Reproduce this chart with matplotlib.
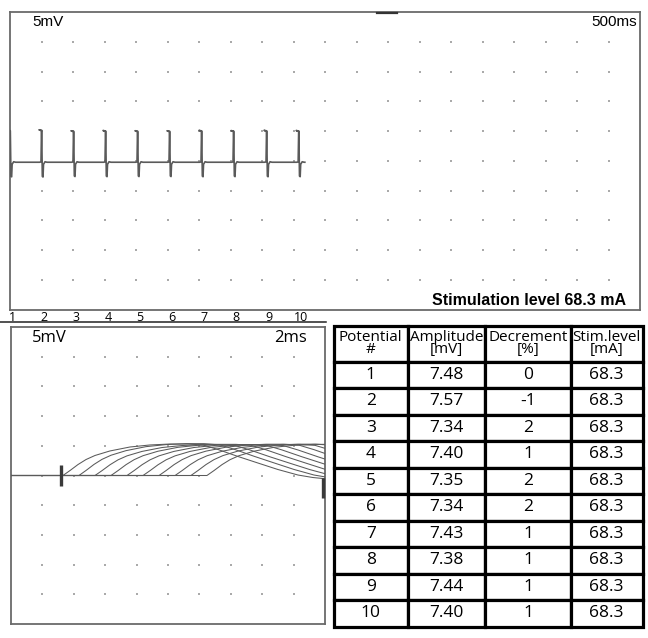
import matplotlib
matplotlib.use("Agg")
import matplotlib.pyplot as plt
from matplotlib.lines import Line2D
import numpy

# ---- table values ----
potential = [1, 2, 3, 4, 5, 6, 7, 8, 9, 10]
amplitude_mv = [7.48, 7.57, 7.34, 7.40, 7.35, 7.34, 7.43, 7.38, 7.44, 7.40]
decrement_pct = [0, -1, 2, 1, 2, 2, 1, 1, 1, 1]
stim_level_ma = [68.3, 68.3, 68.3, 68.3, 68.3, 68.3, 68.3, 68.3, 68.3, 68.3]
headers = ["Potential\n#", "Amplitude\n[mV]", "Decrement\n[%]", "Stim.level\n[mA]"]

# ---- slow sweep (500 ms/div, 5 mV/div) ----
train_ms = [10, 508, 1016, 1524, 2032, 2540, 3048, 3556, 4080, 4590]
train_end_ms = 4680
train_baseline_mv = -0.25
# one response (ms from response, mV)
spike_t = [-40, -16, -8, -48, -5, 5, 16, 24, 48, 79]
spike_v = [0, 0.05, 5.22, 5.39, 5.30, -2.35, -2.45, -0.34, 0.08, 0]

# ---- fast sweep (2 ms/div, 5 mV/div), cascade display ----
stim_ms = 3.18
end_mark_ms = 19.87
onset_ms = [3.31, 4.33, 5.35, 6.37, 7.39, 8.41, 9.43, 10.45, 11.46, 12.48]
cmap_t = [0, 0.45, 0.96, 1.47, 2.04, 2.99, 4.27, 5.54, 6.82, 7.96,
          8.92, 9.87, 11.15, 12.42, 13.69, 14.97, 15.92, 16.88]
cmap_v = [0, 0.84, 1.85, 2.69, 3.37, 4.13, 4.80, 5.14, 5.30, 5.30,
          5.14, 4.38, 3.20, 2.10, 1.01, 0.08, -0.34, -0.59]

TRACE = "#5a5a5a"
DOT = "#aaaaaa"
FRAME = "#6a6a6a"


def scope_axes(ax, xmax, xstep):
    ax.set_xlim(0, xmax)
    ax.set_ylim(-25, 25)
    ax.set_xticks([])
    ax.set_yticks([])
    for s in ax.spines.values():
        s.set_color(FRAME)
        s.set_linewidth(1.3)
    gx, gy = numpy.meshgrid(numpy.arange(xstep, xmax - xstep / 2, xstep),
                            numpy.arange(-20, 21, 5))
    ax.scatter(gx.ravel(), gy.ravel(), s=2.6, marker="s", color=DOT,
               linewidths=0, zorder=1)


fig = plt.figure(figsize=(6.48, 6.38), dpi=100)

# ---- top: train of responses ----
ax1 = fig.add_axes([10 / 648, 1 - 309.5 / 638, 630 / 648, 297.5 / 638])
scope_axes(ax1, 10000, 500)
tt, vv = [], []
for t0, amp in zip(train_ms, amplitude_mv):
    k = amp / amplitude_mv[0]
    tt += [t0 + d for d in spike_t]
    vv += [train_baseline_mv + v * k for v in spike_v]
tt.append(train_end_ms)
vv.append(train_baseline_mv)
ax1.plot(tt, vv, color=TRACE, lw=1.2, zorder=3)

ax1.text(0.035, 0.966, "5mV", transform=ax1.transAxes, ha="left", va="center",
         fontsize=11, family="Liberation Sans")
ax1.text(0.995, 0.966, "500ms", transform=ax1.transAxes, ha="right", va="center",
         fontsize=11, family="Liberation Sans")
ax1.text(0.978, 0.029, "Stimulation level 68.3 mA", transform=ax1.transAxes,
         ha="right", va="center", fontsize=11.5, fontweight="bold",
         family="Liberation Sans")
for t0, n in zip(train_ms, potential):
    ax1.text(t0 + 30, -0.026, str(n), transform=ax1.get_xaxis_transform(),
             ha="center", va="center", fontsize=9, family="Open Sans",
             clip_on=False)

fig.add_artist(Line2D([0, 326 / 648], [1 - 322 / 638] * 2, color="#222222", lw=1.1))
fig.add_artist(Line2D([377 / 648, 397 / 648], [1 - 12.5 / 638] * 2, color="#333333", lw=1.6))

# ---- bottom left: superimposed responses ----
ax2 = fig.add_axes([11 / 648, 1 - 624 / 638, 314 / 648, 297 / 638])
scope_axes(ax2, 20, 2)
for t0, amp in zip(onset_ms, amplitude_mv):
    k = amp / amplitude_mv[0]
    ax2.plot([0] + [t0 + d for d in cmap_t], [0] + [v * k for v in cmap_v],
             color=TRACE, lw=0.75, zorder=3)
ax2.plot([stim_ms, stim_ms], [-1.85, 1.85], color="#3a3a3a", lw=2.4,
         solid_capstyle="butt", zorder=4)
ax2.plot([end_mark_ms, end_mark_ms], [-0.34, -3.87], color="#3a3a3a", lw=2.4,
         solid_capstyle="butt", zorder=4, clip_on=False)
ax2.text(0.067, 0.963, "5mV", transform=ax2.transAxes, ha="left", va="center",
         fontsize=12, family="Open Sans")
ax2.text(0.943, 0.963, "2ms", transform=ax2.transAxes, ha="right", va="center",
         fontsize=12, family="Open Sans")

# ---- bottom right: table ----
ax3 = fig.add_axes([334 / 648, 1 - 626.5 / 638, 308.5 / 648, 301 / 638])
ax3.axis("off")
rows = [[str(p), "%.2f" % a, str(d), "%.1f" % s]
        for p, a, d, s in zip(potential, amplitude_mv, decrement_pct, stim_level_ma)]
col_w = [73.5 / 308.5, 77.5 / 308.5, 86 / 308.5, 71.5 / 308.5]
tab = ax3.table(cellText=rows, colLabels=headers, colWidths=col_w,
                cellLoc="center", bbox=[0, 0, 1, 1])
tab.auto_set_font_size(False)
for (r, c), cell in tab.get_celld().items():
    cell.set_edgecolor("black")
    cell.set_linewidth(2.3)
    cell.set_height(36 if r == 0 else 26.5)
    txt = cell.get_text()
    txt.set_family("Open Sans")
    if r == 0:
        txt.set_fontsize(11)
        txt.set_linespacing(0.75)
    else:
        txt.set_fontsize(12.5)

fig.savefig("out.png", dpi=100)
